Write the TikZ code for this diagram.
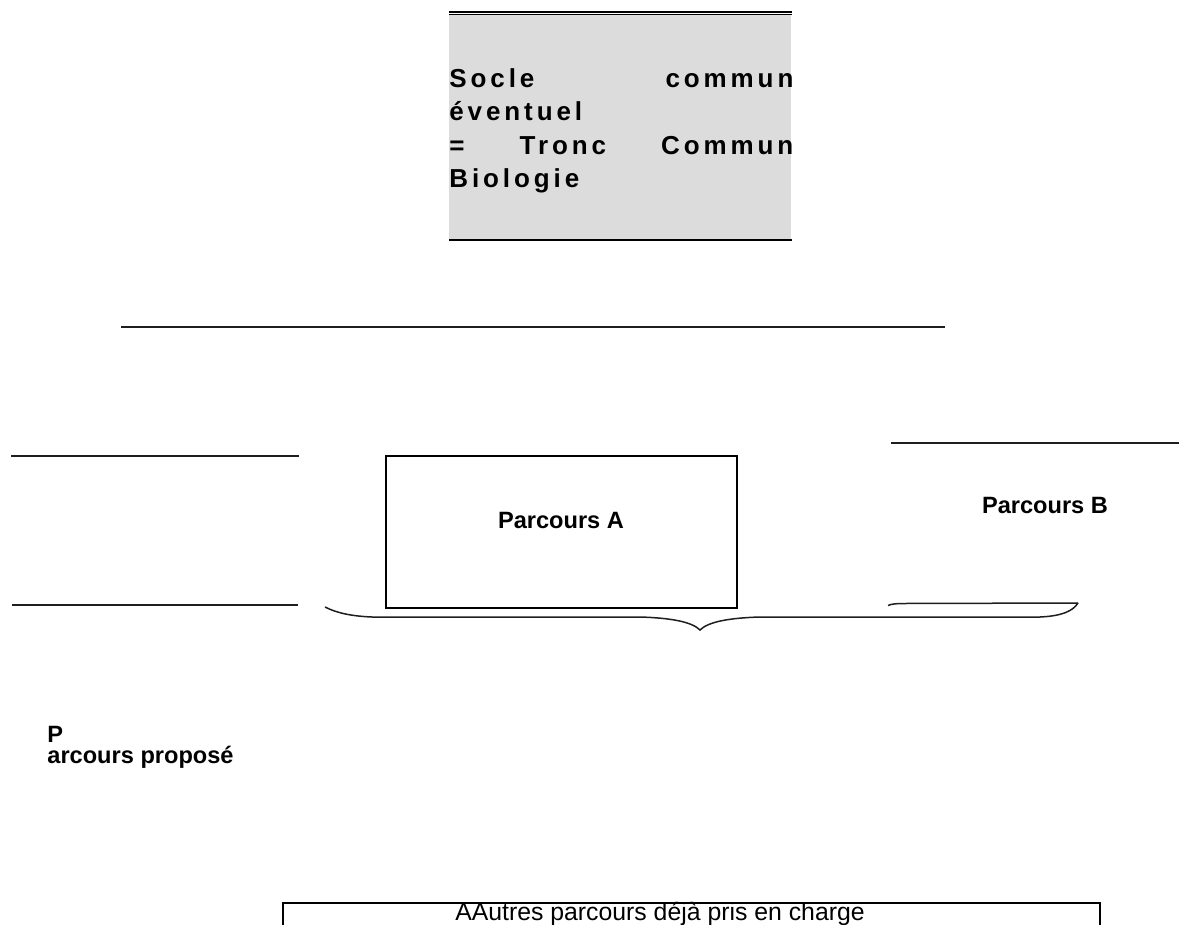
\documentclass[tikz,border=0pt]{standalone}
\usepackage{fontspec}
\setmainfont{Liberation Sans}
\newfontfamily\spacedbold[LetterSpace=15]{Liberation Sans Bold}
\definecolor{boxgrey}{RGB}{220,220,220}
\definecolor{inkline}{RGB}{30,30,30}
\begin{document}
\begin{tikzpicture}[x=0.5pt,y=-0.5pt,
  rule/.style={draw=inkline,line width=0.75pt},
  framebox/.style={draw=black,line width=1pt,inner sep=0pt},
  boldlabel/.style={font=\bfseries\fontsize{11.8}{14}\selectfont,inner sep=0pt},
  plainlabel/.style={font=\fontsize{12.4}{14}\selectfont,inner sep=0pt}]
\useasboundingbox (0,0) rectangle (1179,925);

% top grey block
\node[fill=boxgrey,inner sep=0pt,minimum width=171pt,minimum height=112pt,anchor=north west] (socle) at (449,15) {};
\draw[black,line width=0.6pt] ([yshift=1.5pt]socle.north west) -- ([yshift=1.5pt]socle.north east);
\draw[black,line width=0.6pt] ([yshift=0.2pt]socle.north west) -- ([yshift=0.2pt]socle.north east);
\draw[black,line width=1pt] (socle.south west) -- (socle.south east);
\node[anchor=north west,inner sep=0pt,text width=172pt,align=left,
  font=\spacedbold\fontsize{13}{16.75}\selectfont] (socletext) at (449,68)
  {Socle\hfill commun\\ éventuel\\ =\hfill Tronc\hfill Commun\\ Biologie};

% long rule
\draw[rule] (121,327) -- (945,327);

% left rules
\draw[rule] (11,456) -- (299,456);
\draw[rule] (12,605) -- (298,605);

% Parcours A
\node[framebox,minimum width=175.5pt,minimum height=76pt,anchor=north west] (pa) at (385,455) {};
\node[boldlabel,anchor=base] (patext) at (561,528) {Parcours A};

% Parcours B
\draw[rule] (891,443) -- (1179,443);
\node[boldlabel,anchor=base] (pbtext) at (1045,513) {Parcours B};
\draw[rule] (888,605.5) .. controls (891,604) and (896,603.5) .. (906,603.5) -- (1078,603);

% brace
\draw[rule] (325,607) .. controls (335,612) and (348,616) .. (372,617) -- (640,617)
  .. controls (672,618) and (692,622) .. (700,630)
  .. controls (708,622) and (728,618) .. (760,617) -- (1040,617)
  .. controls (1062,616) and (1073,611) .. (1078,603);

% Parcours propose
\node[boldlabel,anchor=base west] (pp1) at (47,742) {P};
\node[boldlabel,anchor=base west] (pp2) at (47,763) {arcours proposé};

% bottom box
\draw[black,line width=1pt] (283,925) -- (283,903) -- (1100,903) -- (1100,925);
\node[plainlabel,anchor=base] (autres) at (660,920.5) {AAutres parcours déjà pris en charge};
\end{tikzpicture}
\end{document}
